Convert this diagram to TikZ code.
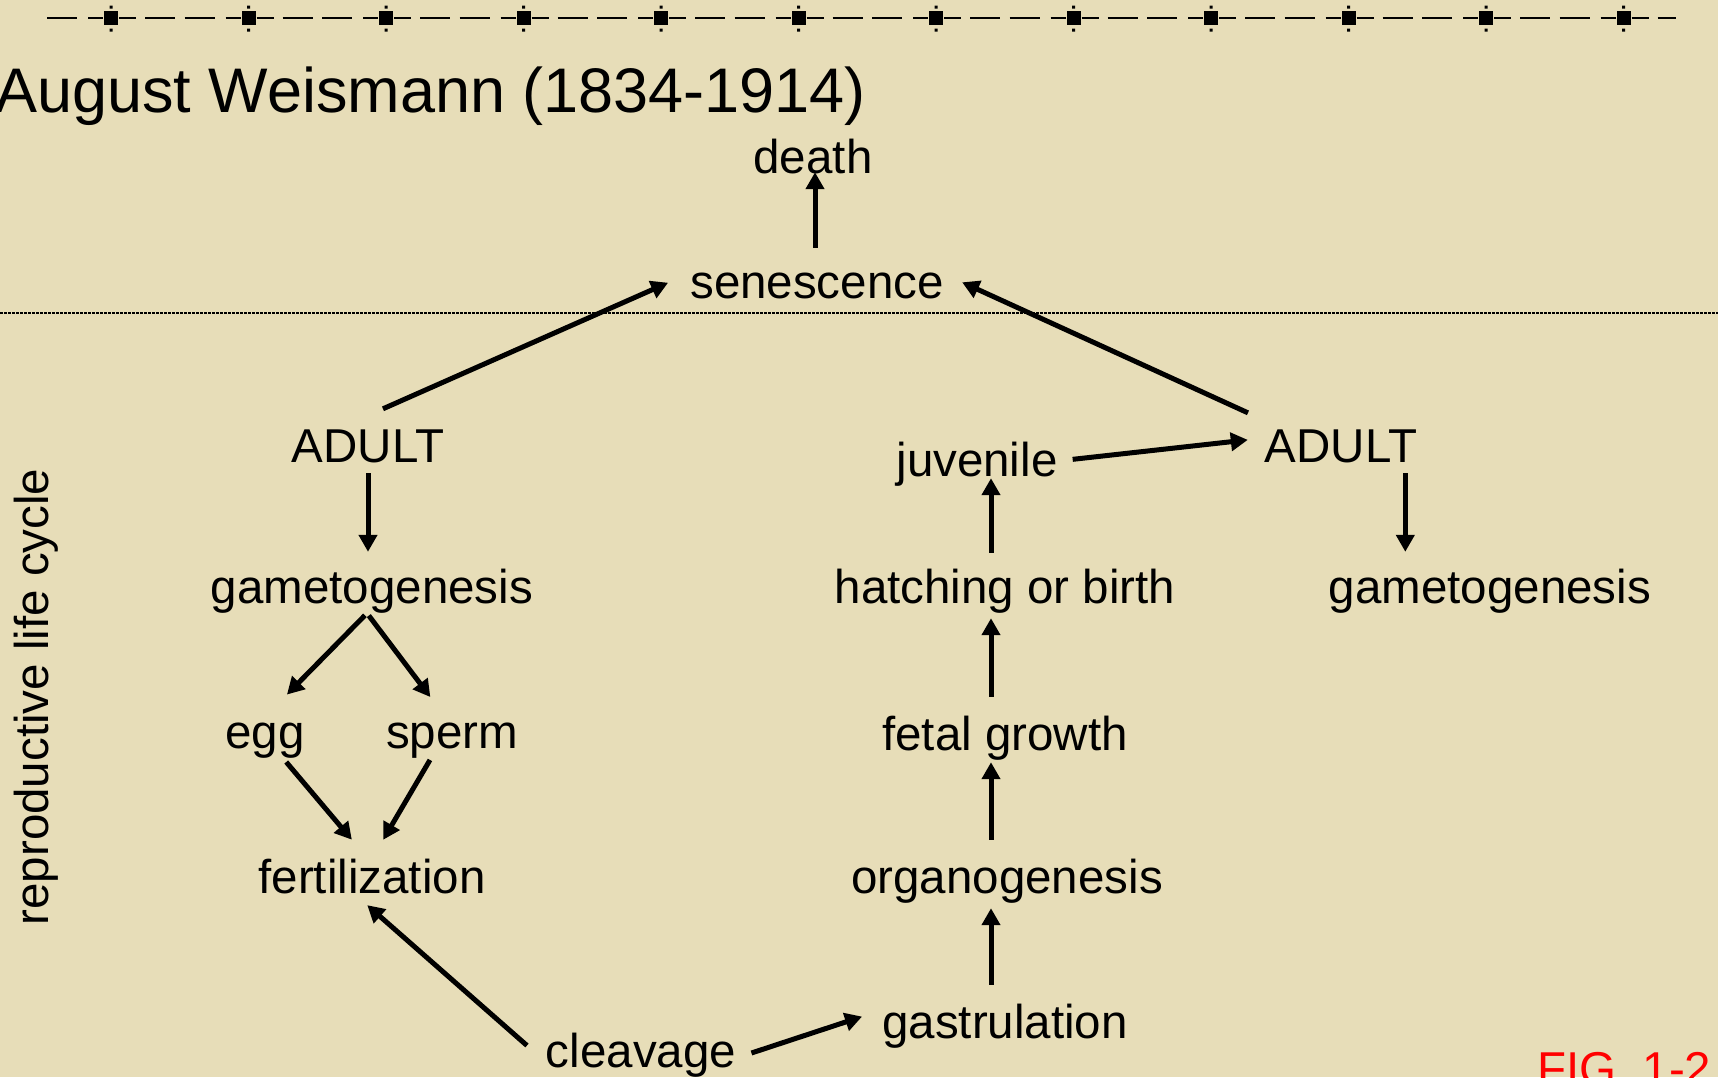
\documentclass[tikz,border=0pt]{standalone}
\usepackage{fontspec}
\setmainfont{Liberation Sans}
\usepackage{tikz}
\usetikzlibrary{arrows.meta}
\definecolor{parchment}{RGB}{231,221,184}
\definecolor{figred}{RGB}{255,0,0}

\begin{document}
\begin{tikzpicture}[x=1pt, y=-1pt,
    stage/.style={font=\fontsize{47.5}{57}\selectfont, inner sep=0pt, text height=34pt, text depth=10pt, anchor=base},
    arr/.style={-{Triangle[length=17pt,width=18pt]}, line width=5pt}]
  \useasboundingbox (0,0) rectangle (1718,1077);
  \clip (0,0) rectangle (1718,1077);
  \fill[parchment] (0,0) rectangle (1718,1077);
  % top rule
  \foreach \i in {0,...,11} {
    \pgfmathsetmacro{\c}{111+137.5*\i}
    \pgfmathsetmacro{\e}{min(\c+64,1676)}
    \draw[line width=2.5pt] (\c-64,18) -- (\c-34,18) (\c-23,18) -- (\c-8,18)
      (\c+8,18) -- (\c+25,18) (\c+34,18) -- (\e,18);
    \fill (\c-7,11) rectangle (\c+7,25);
    \fill (\c-1.5,5.5) rectangle (\c+1.5,8.5) (\c-1.5,28.5) rectangle (\c+1.5,31.5);
  }
  \draw[line width=2pt, dash pattern=on 2.5pt off 1.5pt] (0,313) -- (1718,313);

  \node[font=\fontsize{63}{75}\selectfont, inner sep=0pt, anchor=base west] (title) at (-5,112) {August Weismann (1834-1914)};
  \node[stage, rotate=90] (cycle) at (48,697) {reproductive life cycle};
  \node[stage, text=figred, anchor=base west] (fig) at (1537,1085) {FIG. 1-2};

  % stages
  \node[stage] (death) at (813,173) {death};
  \node[stage] (sen) at (817,298) {senescence};
  \node[stage] (adultL) at (368,462) {ADULT};
  \node[stage] (gameL) at (372,603) {gametogenesis};
  \node[stage] (egg) at (265,748) {egg};
  \node[stage] (sperm) at (452,748) {sperm};
  \node[stage] (fert) at (372,893) {fertilization};
  \node[stage] (cleav) at (641,1067) {cleavage};
  \node[stage] (gast) at (1005,1038) {gastrulation};
  \node[stage] (organ) at (1007,893) {organogenesis};
  \node[stage] (fetal) at (1005,750) {fetal growth};
  \node[stage] (hatch) at (1005,603) {hatching or birth};
  \node[stage] (juv) at (977,476) {juvenile};
  \node[stage] (adultR) at (1341,462) {ADULT};
  \node[stage] (gameR) at (1490,603) {gametogenesis};

  % arrows
  \draw[arr, shorten <=16pt, shorten >=-11pt] ([xshift=-2pt]sen.north) -- ([xshift=-2pt]sen.north |- death.south);
  \draw[arr, shorten <=47pt, shorten >=24pt] ([xshift=-28pt]adultL.north) -- ([yshift=13pt]sen.west);
  \draw[arr, shorten <=36pt, shorten >=20pt] ([xshift=16pt]adultR.north west) -- ([yshift=12pt]sen.east);
  \draw[arr, shorten <=1pt, shorten >=17pt] (adultL.south) -- (adultL.south |- gameL.north);
  \draw[arr, shorten <=3pt, shorten >=27pt] ([xshift=-5pt]gameL.south) -- ([xshift=3pt]egg.north);
  \draw[arr, shorten <=3pt, shorten >=21pt] ([xshift=-5pt]gameL.south) -- ([xshift=-9pt]sperm.north);
  \draw[arr, shorten <=5pt, shorten >=25pt] ([xshift=18pt]egg.south) -- ([xshift=-4pt]fert.north);
  \draw[arr, shorten <=2pt, shorten >=22pt] ([xshift=-21pt]sperm.south) -- (fert.north);
  \draw[arr, shorten <=25pt, shorten >=3pt] ([yshift=-7pt]cleav.west) -- ([xshift=-7pt]fert.south);
  \draw[arr, shorten <=16pt, shorten >=21pt] ([yshift=-3pt]cleav.east) -- ([yshift=16pt]gast.west);
  \draw[arr, shorten <=19pt, shorten >=5pt] ([xshift=-14pt]gast.north) -- ([xshift=-14pt]gast.north |- organ.south);
  \draw[arr, shorten <=19pt, shorten >=2pt] ([xshift=-14pt]fetal.south |- organ.north) -- ([xshift=-14pt]fetal.south);
  \draw[arr, shorten <=19pt, shorten >=5pt] ([xshift=-14pt]fetal.north) -- ([xshift=-14pt]fetal.north |- hatch.south);
  \draw[arr, shorten <=16pt, shorten >=-8pt] ([xshift=-14pt]hatch.north) -- ([xshift=-14pt]hatch.north |- juv.south);
  \draw[arr, shorten <=15pt, shorten >=17pt] ([yshift=3pt]juv.east) -- ([yshift=12pt]adultR.west);
  \draw[arr, shorten <=1pt, shorten >=17pt] ([xshift=-12pt]adultR.south east) -- ([xshift=-12pt]adultR.south east |- gameR.north);
\end{tikzpicture}
\end{document}
